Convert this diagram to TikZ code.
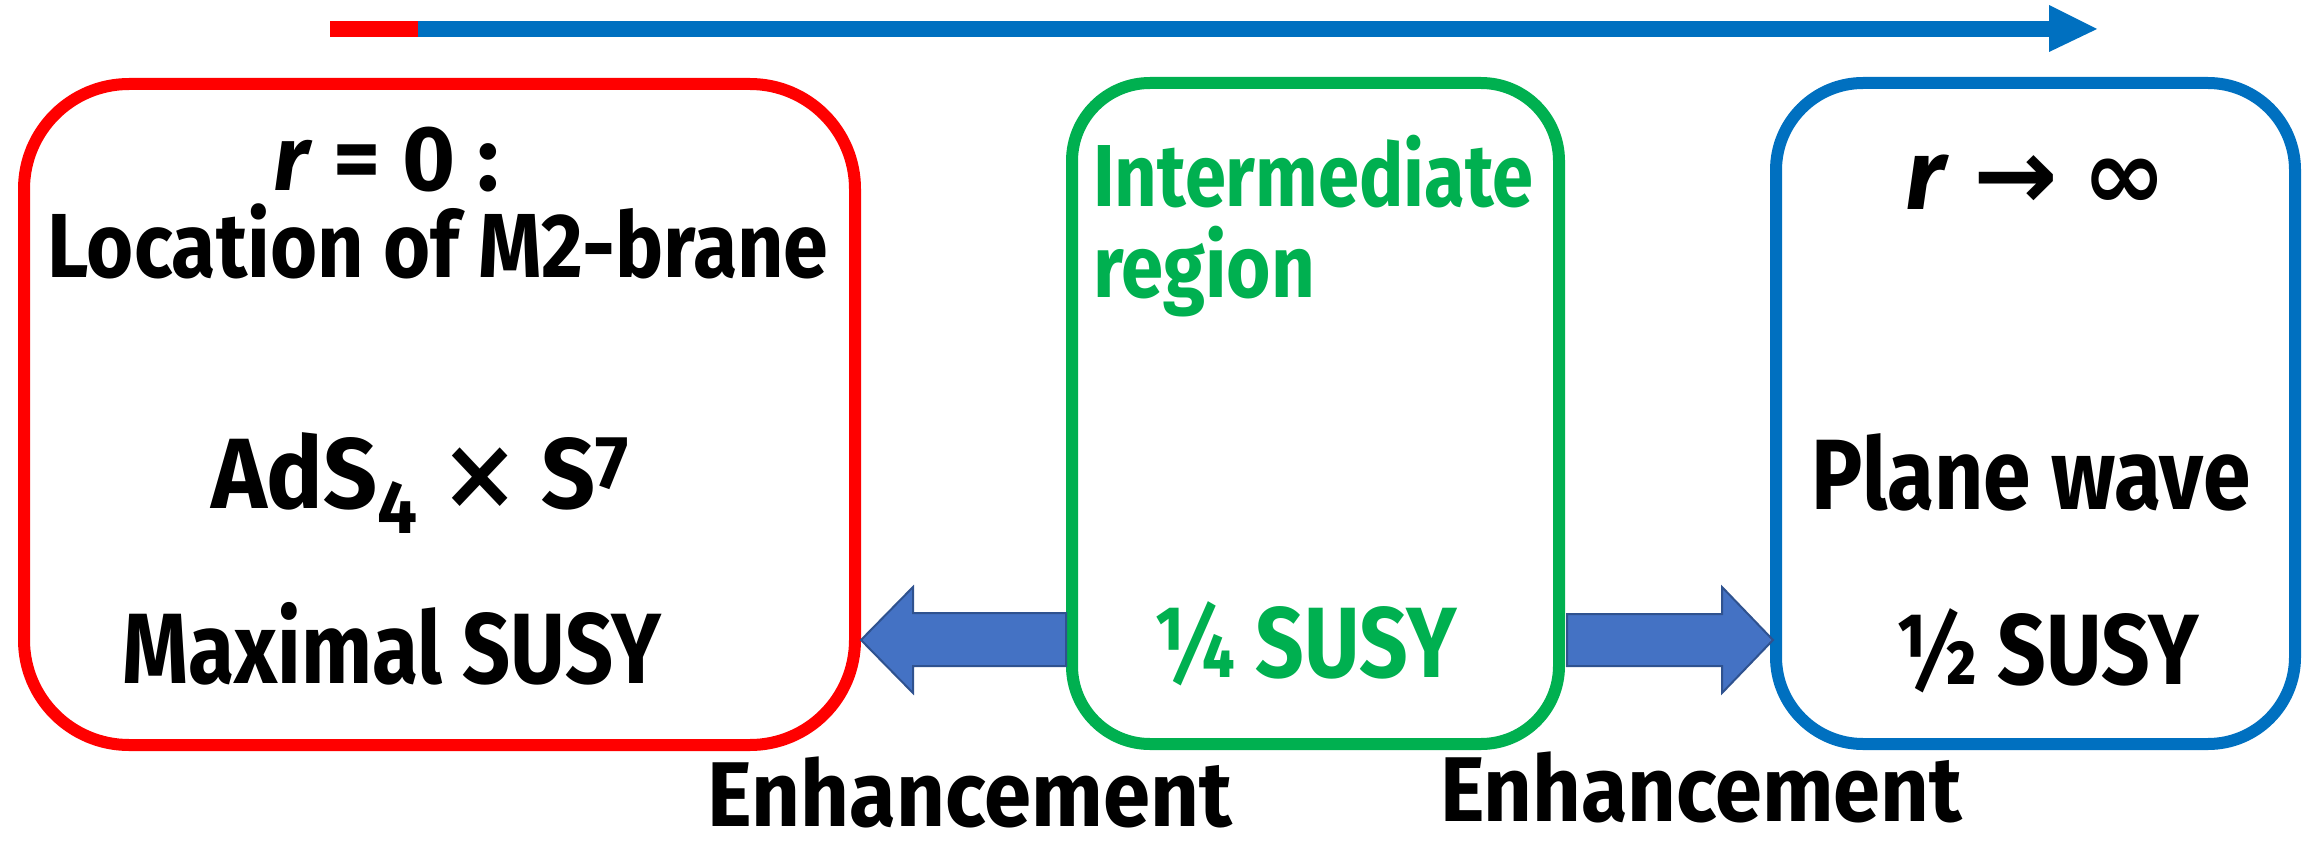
\documentclass[tikz,border=0pt]{standalone}
\usepackage{fontspec}
\setmainfont{Fira Sans}
\newfontfamily\symfont{DejaVu Sans}
\usetikzlibrary{calc}
\definecolor{cred}{HTML}{FF0000}
\definecolor{cgreen}{HTML}{00B050}
\definecolor{cblue}{HTML}{0070C0}
\definecolor{afill}{HTML}{4472C4}
\definecolor{aedge}{HTML}{2F528F}
\newcommand{\fw}[3]{\resizebox{#1pt}{\height}{\fontsize{#2}{#2}\selectfont\bfseries #3}}
\tikzset{
  box/.style={draw, line width=12pt, rectangle, fill=none, inner sep=0pt},
  txt/.style={inner sep=0pt, anchor=base},
  barrow/.style={fill=afill, draw=aedge, line width=2pt, line join=miter},
}
\begin{document}
\begin{tikzpicture}[x=1pt,y=-1pt]
\useasboundingbox (0,0) rectangle (2313,853);
% boxes
\node[box, draw=cred, rounded corners=105pt, minimum width=831pt, minimum height=661pt] (red) at (439.5,414.5) {};
\node[box, draw=cgreen, rounded corners=78pt, minimum width=487pt, minimum height=661pt] (green) at (1315.5,413.5) {};
\node[box, draw=cblue, rounded corners=87pt, minimum width=519pt, minimum height=661pt] (blue) at (2035.5,413.5) {};
% top arrow
\coordinate (ta) at (330,29);
\coordinate (tb) at (418,29);
\coordinate (th) at (2049,29);
\coordinate (tt) at (2097,29);
\draw[cred, line width=16pt] (ta) -- (tb);
\draw[cblue, line width=16pt] (tb) -- (th);
\fill[cblue] ($(th)+(0,-24)$) -- (tt) -- ($(th)+(0,23)$) -- cycle;
% block arrows
\coordinate (lt) at (red.east |- 0,640);
\coordinate (ls) at (green.west |- 0,640);
\draw[barrow] (lt) -- ($(lt)+(52,-53)$) -- ($(lt)+(52,-27)$) -- ($(ls)+(0,-27)$) -- ($(ls)+(0,26)$) -- ($(lt)+(52,26)$) -- ($(lt)+(52,53)$) -- cycle;
\coordinate (rs) at ($(green.east |- 0,640)+(2,0)$);
\coordinate (rt) at ($(blue.west |- 0,640)+(3,0)$);
\draw[barrow] (rt) -- ($(rt)+(-51,-53)$) -- ($(rt)+(-51,-26)$) -- ($(rs)+(0,-26)$) -- ($(rs)+(0,26)$) -- ($(rt)+(-51,26)$) -- ($(rt)+(-51,53)$) -- cycle;
% red box text
\node[txt] (r0) at (386,190) {\fw{226}{92}{\textit{r} = 0 :}};
\node[txt] (loc) at (438,277) {\fw{781}{91}{Location of M2-brane}};
\node[txt] (ads) at (420,508) {\fw{418}{100}{AdS\raisebox{-25pt}{\fontsize{75}{75}\selectfont 4} {\symfont ×} S\raisebox{20pt}{\fontsize{75}{75}\selectfont 7}}};
\node[txt] (max) at (392,683) {\fw{539}{100}{Maximal SUSY}};
% green box text
\node[txt, anchor=base west, text=cgreen] (inter) at (1093,207) {\fw{440}{88}{Intermediate}};
\node[txt, anchor=base west, text=cgreen] (reg) at (1093,297) {\fw{222}{88}{region}};
\node[txt, text=cgreen] (q) at (1305,677) {\fw{304}{100}{¼ SUSY}};
% blue box text
\node[txt] (rinf) at (2036,210) {\fw{261}{100}{\textit{r} {\symfont →} {\symfont ∞}}};
\node[txt] (pw) at (2031,509) {\fw{439}{100}{Plane wave}};
\node[txt] (h) at (2047,684) {\fw{304}{100}{½ SUSY}};
% labels
\node[txt] (e1) at (970,826) {\fw{524}{92}{Enhancement}};
\node[txt] (e2) at (1701,821) {\fw{522}{92}{Enhancement}};
\end{tikzpicture}
\end{document}
